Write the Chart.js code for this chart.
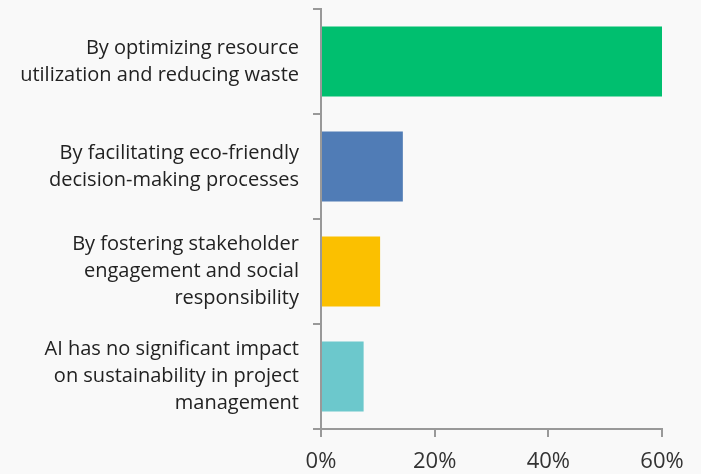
<!DOCTYPE html>
<html><head><meta charset="utf-8">
<script src="https://cdn.jsdelivr.net/npm/chart.js@4/dist/chart.umd.min.js"></script>
<style>html,body{margin:0;padding:0;background:#f9f9f9;}#wrap{width:701px;height:474px;}</style>
</head><body><div id="wrap"><canvas id="c" width="701" height="474"></canvas></div>
<script>
const categories = [
  ["By optimizing resource", "utilization and reducing waste"],
  ["By facilitating eco-friendly", "decision-making processes"],
  ["By fostering stakeholder", "engagement and social", "responsibility"],
  ["AI has no significant impact", "on sustainability in project", "management"]
];
const values = [60.2, 14.4, 10.4, 7.5];
const barColors = ["#00bf6f", "#507cb6", "#fbc000", "#6cc8cc"];
const xTicks = [0, 20, 40, 60];

new Chart(document.getElementById('c'), {
  type: 'bar',
  data: { labels: categories, datasets: [{ data: values, backgroundColor: barColors, barPercentage: 0.667, categoryPercentage: 1 }] },
  options: {
    indexAxis: 'y', responsive: false, animation: false,
    layout: { padding: { top: 9, right: 39, left: 0, bottom: 0 } },
    plugins: { legend: { display: false }, tooltip: { enabled: false } },
    scales: {
      x: {
        min: 0, max: 60,
        afterBuildTicks: (s) => { s.ticks = xTicks.map(v => ({ value: v })); },
        afterFit: (s) => { s.height = 45; s.paddingLeft = 0; s.paddingRight = 0; },
        border: { color: '#999', width: 2 },
        grid: { drawOnChartArea: false, tickLength: 8, color: '#999', lineWidth: 2 },
        ticks: { color: '#333', font: { family: 'Open Sans', size: 22 }, padding: 12, callback: (v) => v + '%' , maxRotation: 0}
      },
      y: {
        afterFit: (s) => { s.width = 321; s.paddingTop = 0; s.paddingBottom = 0; },
        border: { color: '#999', width: 2 },
        grid: { drawOnChartArea: false, tickLength: 8, color: '#999', lineWidth: 2 },
        ticks: { color: '#222', font: { family: 'Open Sans', size: 20, lineHeight: 1.35 }, padding: 14 }
      }
    }
  }
});
</script></body></html>
